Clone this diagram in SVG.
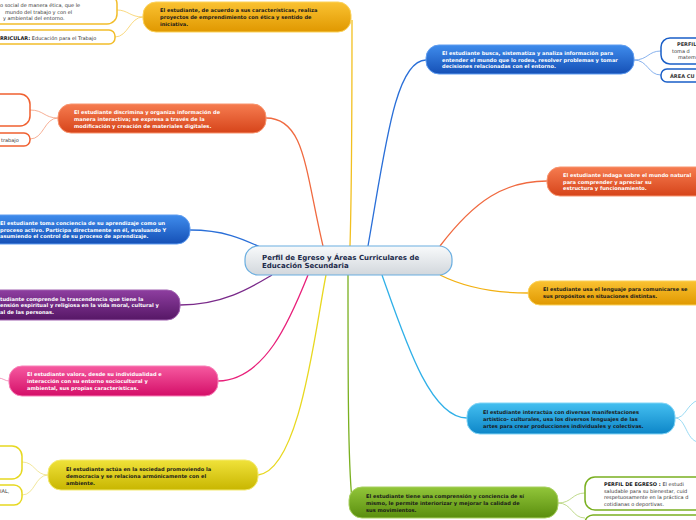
<svg xmlns="http://www.w3.org/2000/svg" width="696" height="520" viewBox="0 0 696 520">
<defs>
<linearGradient id="gY" x1="0" y1="0" x2="0" y2="1"><stop offset="0" stop-color="#fac232"/><stop offset="1" stop-color="#e09800"/></linearGradient>
<linearGradient id="gB" x1="0" y1="0" x2="0" y2="1"><stop offset="0" stop-color="#3f8cec"/><stop offset="1" stop-color="#1550b6"/></linearGradient>
<linearGradient id="gO" x1="0" y1="0" x2="0" y2="1"><stop offset="0" stop-color="#f67c50"/><stop offset="1" stop-color="#d6441a"/></linearGradient>
<linearGradient id="gP" x1="0" y1="0" x2="0" y2="1"><stop offset="0" stop-color="#8e3ea0"/><stop offset="1" stop-color="#561766"/></linearGradient>
<linearGradient id="gM" x1="0" y1="0" x2="0" y2="1"><stop offset="0" stop-color="#f65aa0"/><stop offset="1" stop-color="#d40e68"/></linearGradient>
<linearGradient id="gC" x1="0" y1="0" x2="0" y2="1"><stop offset="0" stop-color="#44bff0"/><stop offset="1" stop-color="#0d86c8"/></linearGradient>
<linearGradient id="gL" x1="0" y1="0" x2="0" y2="1"><stop offset="0" stop-color="#f0e23a"/><stop offset="1" stop-color="#c8b600"/></linearGradient>
<linearGradient id="gG" x1="0" y1="0" x2="0" y2="1"><stop offset="0" stop-color="#92c63a"/><stop offset="1" stop-color="#5a8e0e"/></linearGradient>
<linearGradient id="gZ" x1="0" y1="0" x2="0" y2="1"><stop offset="0" stop-color="#f8fafb"/><stop offset="1" stop-color="#d2d7dc"/></linearGradient>
</defs>
<style>
.t{font-family:"DejaVu Sans",Verdana,sans-serif;font-weight:bold;font-size:5.1px}
.w{fill:#ffffff}
.k{fill:#1a1a1a}
.c{font-family:"DejaVu Sans",Verdana,sans-serif;font-weight:bold;font-size:7px;fill:#1c2a4a}
.s{font-family:"DejaVu Sans",Verdana,sans-serif;font-size:5px;fill:#333333}
.sb{font-weight:bold}
.ln{fill:none;stroke-width:1.3}
.cl{fill:none;stroke-width:0.8}
.box{fill:#ffffff;stroke-width:1.5}
</style>
<g id="connectors">
<path class="ln" stroke="#f2c020" d="M350,246 C352,180 352,70 352,20"/>
<path class="ln" stroke="#2a6fd8" d="M368,246 C385,150 395,60 426,60"/>
<path class="ln" stroke="#f06a40" d="M323,246 C305,170 305,118 266,118"/>
<path class="ln" stroke="#f06a40" d="M440,246 C475,200 505,181 547,181"/>
<path class="ln" stroke="#2a6fd8" d="M190,230 C225,230 245,240 260,247"/>
<path class="ln" stroke="#7a2a8a" d="M180,305 C225,305 255,285 272,275"/>
<path class="ln" stroke="#e8207a" d="M218,381 C265,380 290,320 308,275"/>
<path class="ln" stroke="#e8d820" d="M258,475 C300,470 315,330 326,275"/>
<path class="ln" stroke="#7ab020" d="M348,275 C348,380 348,460 352,500"/>
<path class="ln" stroke="#30b0e8" d="M382,275 C405,340 430,418 467,418"/>
<path class="ln" stroke="#f2b010" d="M440,275 C470,290 500,293 528,293"/>
<path class="cl" stroke="#f7cf60" d="M143,17 C130,17 128,10 117,10 M143,17 C130,17 128,37 115,37"/>
<path class="cl" stroke="#6a9ee8" d="M634,60 C648,60 648,51 661,51 M634,60 C648,60 648,75 661,75"/>
<path class="cl" stroke="#f49a7a" d="M58,118 C44,118 44,110 30,110 M58,118 C44,118 44,139 30,139"/>
<path class="cl" stroke="#eee080" d="M48,475 C35,475 35,462 22,462 M48,475 C35,475 35,495 22,495"/>
<path class="cl" stroke="#b0d070" d="M558,503 C572,503 572,493 585,493 M558,503 C572,503 572,518 585,518"/>
<path class="cl" stroke="#80d0f0" d="M675,418 C686,418 686,405 698,400 M675,418 C686,418 686,440 698,442"/>
<path class="cl" stroke="#f080b0" d="M9,381 C5,381 3,378 -2,378"/>
</g>
<g id="center">
<rect x="245" y="246" width="207" height="29" rx="13" fill="url(#gZ)" stroke="#6aaee0" stroke-width="1.2"/>
<text class="c" x="262" y="260">Perfil de Egreso y Áreas Curriculares de</text>
<text class="c" x="262" y="268">Educación Secundaria</text>
</g>
<g id="n-emprendimiento">
<rect x="143" y="2" width="208" height="30" rx="13" fill="url(#gY)" stroke="#fbd25a" stroke-width="1"/>
<text class="t k" x="160" y="12">El estudiante, de acuerdo a sus características, realiza</text>
<text class="t k" x="160" y="19">proyectos de emprendimiento con ética y sentido de</text>
<text class="t k" x="160" y="26">iniciativa.</text>
</g>
<g id="c-emp-1">
<rect class="box" x="-20" y="-6" width="137" height="30" rx="10" stroke="#f2bd2a"/>
<text class="s" x="0" y="7">o social de manera ética, que le</text>
<text class="s" x="5" y="14">mundo del trabajo y con el</text>
<text class="s" x="3" y="20">y ambiental del entorno.</text>
</g>
<g id="c-emp-2">
<rect class="box" x="-20" y="30" width="135" height="14" rx="6" stroke="#f2bd2a"/>
<text class="s" x="0" y="39.5"><tspan class="sb" fill="#1a1a1a">RRICULAR:</tspan> Educación para el Trabajo</text>
</g>
<g id="n-busca">
<rect x="426" y="45" width="208" height="29" rx="13" fill="url(#gB)" stroke="#5e9cf0" stroke-width="1"/>
<text class="t w" x="442" y="55">El estudiante busca, sistematiza y analiza información para</text>
<text class="t w" x="442" y="61.5">entender el mundo que lo rodea, resolver problemas y tomar</text>
<text class="t w" x="442" y="68">decisiones relacionadas con el entorno.</text>
</g>
<g id="c-busca-1">
<rect class="box" x="661" y="38" width="60" height="26" rx="9" stroke="#1a5fc8"/>
<text class="s sb" x="677" y="46" fill="#1a1a1a">PERFIL</text>
<text class="s" x="672" y="52.5">toma d</text>
<text class="s" x="678" y="59">matem</text>
</g>
<g id="c-busca-2">
<rect class="box" x="661" y="69" width="60" height="13" rx="6" stroke="#1a5fc8"/>
<text class="s sb" x="670" y="77.5" fill="#1a1a1a">ÁREA CU</text>
</g>
<g id="n-discrimina">
<rect x="58" y="104" width="208" height="29" rx="13" fill="url(#gO)" stroke="#f8946e" stroke-width="1"/>
<text class="t w" x="74" y="114">El estudiante discrimina y organiza información de</text>
<text class="t w" x="74" y="121">manera interactiva; se expresa a través de la</text>
<text class="t w" x="74" y="128">modificación y creación de materiales digitales.</text>
</g>
<g id="c-disc-1">
<rect class="box" x="-20" y="94" width="50" height="32" rx="10" stroke="#f06030"/>
</g>
<g id="c-disc-2">
<rect class="box" x="-20" y="133" width="50" height="13" rx="6" stroke="#f06030"/>
<text class="s" x="1" y="141.5">trabajo</text>
</g>
<g id="n-indaga">
<rect x="547" y="167" width="170" height="29" rx="13" fill="url(#gO)" stroke="#f8946e" stroke-width="1"/>
<text class="t w" x="563" y="177">El estudiante indaga sobre el mundo natural</text>
<text class="t w" x="563" y="183.5">para comprender y apreciar su</text>
<text class="t w" x="563" y="190">estructura y funcionamiento.</text>
</g>
<g id="n-conciencia">
<rect x="-20" y="215" width="210" height="29" rx="13" fill="url(#gB)" stroke="#5e9cf0" stroke-width="1"/>
<text class="t w" x="0" y="225">El estudiante toma conciencia de su aprendizaje como un</text>
<text class="t w" x="0" y="231.5">proceso activo. Participa directamente en él, evaluando Y</text>
<text class="t w" x="0" y="238">asumiendo el control de su proceso de aprendizaje.</text>
</g>
<g id="n-lenguaje">
<rect x="528" y="281" width="190" height="24" rx="12" fill="url(#gY)" stroke="#fbd25a" stroke-width="1"/>
<text class="t k" x="543" y="291">El estudiante usa el lenguaje para comunicarse se</text>
<text class="t k" x="543" y="298">sus propósitos en situaciones distintas.</text>
</g>
<g id="n-espiritual">
<rect x="-20" y="290" width="200" height="30" rx="13" fill="url(#gP)" stroke="#a060b0" stroke-width="1"/>
<text class="t w" x="0" y="300.5">tudiante comprende la trascendencia que tiene la</text>
<text class="t w" x="0" y="307">ensión espiritual y religiosa en la vida moral, cultural y</text>
<text class="t w" x="0" y="313.5">al de las personas.</text>
</g>
<g id="n-valora">
<rect x="9" y="366" width="209" height="30" rx="13" fill="url(#gM)" stroke="#f880b8" stroke-width="1"/>
<text class="t w" x="27" y="376">El estudiante valora, desde su individualidad e</text>
<text class="t w" x="27" y="383">interacción con su entorno sociocultural y</text>
<text class="t w" x="27" y="390">ambiental, sus propias características.</text>
</g>
<g id="n-artistico">
<rect x="467" y="403" width="208" height="31" rx="13" fill="url(#gC)" stroke="#80d4f6" stroke-width="1"/>
<text class="t k" x="483" y="414">El estudiante interactúa con diversas manifestaciones</text>
<text class="t k" x="483" y="421">artístico- culturales,  usa los diversos lenguajes de las</text>
<text class="t k" x="483" y="428">artes para crear producciones individuales y colectivas.</text>
</g>
<g id="n-democracia">
<rect x="48" y="460" width="210" height="30" rx="13" fill="url(#gL)" stroke="#f4ea70" stroke-width="1"/>
<text class="t k" x="66" y="471">El estudiante actúa en la sociedad promoviendo la</text>
<text class="t k" x="66" y="478">democracia y se relaciona armónicamente con el</text>
<text class="t k" x="66" y="485">ambiente.</text>
</g>
<g id="c-dem-1">
<rect class="box" x="-20" y="446" width="42" height="33" rx="10" stroke="#e6d820"/>
</g>
<g id="c-dem-2">
<rect class="box" x="-20" y="485" width="42" height="20" rx="8" stroke="#e6d820"/>
<text class="s" x="0" y="493">IAL,</text>
</g>
<g id="n-movimientos">
<rect x="349" y="487" width="209" height="31" rx="13" fill="url(#gG)" stroke="#a8d060" stroke-width="1"/>
<text class="t k" x="366" y="498">El estudiante tiene una comprensión y conciencia de sí</text>
<text class="t k" x="366" y="505">mismo,  le permite interiorizar y mejorar la calidad de</text>
<text class="t k" x="366" y="512">sus movimientos.</text>
</g>
<g id="c-mov-1">
<rect class="box" x="585" y="477" width="130" height="33" rx="10" stroke="#7ab020"/>
<text class="s" x="604" y="486"><tspan class="sb" fill="#1a1a1a">PERFIL DE EGRESO :</tspan> El estudi</text>
<text class="s" x="604" y="492.5">saludable para su bienestar, cuid</text>
<text class="s" x="604" y="499">respetuosamente en la práctica d</text>
<text class="s" x="604" y="505.5">cotidianas o deportivas.</text>
</g>
<g id="c-mov-2">
<rect class="box" x="585" y="515" width="130" height="20" rx="8" stroke="#7ab020"/>
</g>
</svg>
